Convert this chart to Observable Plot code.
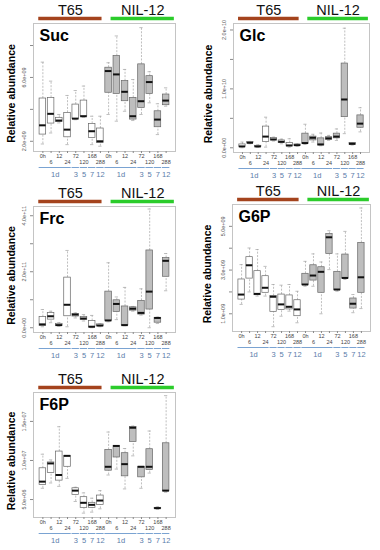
<!DOCTYPE html>
<html><head><meta charset="utf-8">
<script src="https://cdn.jsdelivr.net/npm/d3@7"></script>
<script src="https://cdn.jsdelivr.net/npm/@observablehq/plot@0.6"></script>
<style>
html,body{margin:0;padding:0;background:#fff;}
#wrap{position:relative;width:380px;height:550px;overflow:hidden;font-family:"Liberation Sans",Arial,sans-serif;}
#wrap > div{position:absolute;}
</style></head><body><div id="wrap"></div>
<script>
// ---------- data ----------
const genotypes = ["T65", "NIL-12"];
const timeLabels = ["0h", "6", "12", "24", "72", "120", "168", "288"];
const dayLabels = ["1d", "3", "5", "7", "12"];
const dayFirstTime = [0, 4, 5, 6, 7];
const dayLastTime = [3, 4, 5, 6, 7];

// Suc (x1e9)
const sucMin = [1.83, 2.52, 3.15, 1.79, 3.35, 3.50, 1.79, 1.69, 3.68, 3.26, 3.88, 3.30, 3.68, 4.41, 2.42, 4.20];
const sucQ1  = [2.42, 3.11, 3.21, 2.25, 3.40, 3.55, 2.21, 1.90, 5.04, 4.97, 4.51, 3.36, 4.09, 4.97, 2.88, 4.26];
const sucMed = [3.00, 3.72, 3.30, 2.73, 3.42, 3.57, 2.63, 2.00, 6.40, 6.19, 5.10, 3.57, 4.51, 5.71, 3.36, 4.55];
const sucQ3  = [4.68, 4.72, 3.47, 3.78, 4.30, 4.55, 3.09, 2.80, 6.61, 7.34, 5.77, 4.72, 6.82, 6.08, 3.88, 4.93];
const sucMax = [6.96, 5.77, 3.68, 4.87, 5.18, 5.46, 3.57, 3.57, 6.92, 8.60, 6.50, 5.87, 9.12, 6.36, 4.35, 5.35];
const sucTicks = [2e9, 4e9, 6e9, 8e9];
const sucTickLabels = [2e9, 6e9];

// Glc (x1e10)
const glcMin = [0.000, 0.068, 0.006, 0.011, 0.114, 0.068, 0.011, 0.023, 0.057, 0.097, 0.034, 0.125, 0.125, 0.24, 0.045, 0.27];
const glcQ1  = [0.011, 0.080, 0.011, 0.097, 0.125, 0.080, 0.023, 0.028, 0.068, 0.125, 0.040, 0.136, 0.160, 0.52, 0.050, 0.34];
const glcMed = [0.023, 0.085, 0.023, 0.190, 0.142, 0.102, 0.040, 0.045, 0.080, 0.170, 0.057, 0.160, 0.190, 0.82, 0.068, 0.41];
const glcQ3  = [0.057, 0.097, 0.034, 0.360, 0.165, 0.125, 0.080, 0.057, 0.240, 0.190, 0.160, 0.180, 0.240, 1.43, 0.080, 0.55];
const glcMax = [0.097, 0.108, 0.050, 0.520, 0.180, 0.148, 0.153, 0.068, 0.400, 0.230, 0.250, 0.210, 0.320, 2.03, 0.085, 0.68];
const glcTicks = [0, 5e9, 1e10, 1.5e10, 2e10];
const glcTickLabels = [0, 1e10, 2e10];

// Frc (x1e11)
const frcMin = [0.035, 0.18, 0.047, 0.035, 0.35, 0.24, 0.000, 0.035, 0.21, 0.29, 0.070, 0.59, 0.45, 0.00, 0.15, 1.32];
const frcQ1  = [0.060, 0.29, 0.060, 0.410, 0.40, 0.28, 0.035, 0.050, 0.24, 0.56, 0.080, 0.61, 0.47, 0.65, 0.18, 1.82];
const frcMed = [0.120, 0.41, 0.094, 0.820, 0.47, 0.33, 0.035, 0.080, 0.26, 0.85, 0.094, 0.68, 0.53, 1.29, 0.35, 2.39];
const frcQ3  = [0.380, 0.53, 0.140, 1.790, 0.49, 0.38, 0.240, 0.120, 1.29, 0.98, 0.760, 0.73, 0.96, 2.76, 0.35, 2.49];
const frcMax = [0.650, 0.59, 0.180, 2.760, 0.53, 0.47, 0.440, 0.140, 2.32, 1.10, 1.440, 0.76, 1.39, 4.24, 0.38, 2.65];
const frcTicks = [0, 1e11, 2e11, 3e11, 4e11];
const frcTickLabels = [0, 2e11, 4e11];

// G6P (x1e9)
const g6pMin = [1.43, 2.00, 1.81, 1.81, 0.41, 0.89, 1.12, 0.59, 2.26, 2.26, 1.00, 3.02, 2.03, 2.57, 1.05, 1.24];
const g6pQ1  = [1.65, 2.61, 1.85, 1.96, 1.09, 1.17, 1.20, 0.89, 2.31, 2.52, 1.96, 3.74, 2.08, 2.61, 1.24, 1.96];
const g6pMed = [1.88, 3.22, 1.91, 2.19, 1.78, 1.43, 1.32, 1.20, 2.34, 2.75, 2.92, 4.50, 2.11, 2.64, 1.46, 2.67];
const g6pQ3  = [2.57, 3.59, 2.95, 2.72, 1.81, 1.88, 1.84, 1.62, 2.83, 3.22, 3.13, 4.65, 2.92, 3.71, 1.70, 4.24];
const g6pMax = [3.25, 4.01, 3.94, 3.17, 2.34, 2.31, 2.34, 2.03, 3.40, 3.74, 3.37, 4.80, 3.74, 4.77, 1.88, 5.84];
const g6pTicks = [1e9, 2e9, 3e9, 4e9, 5e9];
const g6pTickLabels = [1e9, 3e9, 5e9];

// F6P (x1e6)
const f6pMin = [6.44, 7.12, 6.69, 7.71, 4.75, 3.26, 3.39, 3.81, 8.14, 8.90, 6.36, 10.59, 6.44, 8.39, 3.73, 5.93];
const f6pQ1  = [6.86, 8.39, 7.42, 9.19, 5.59, 3.90, 3.94, 4.32, 8.69, 10.38, 7.97, 12.37, 7.84, 8.77, 3.81, 6.06];
const f6pMed = [7.29, 9.62, 8.14, 10.59, 6.14, 4.58, 4.32, 4.87, 9.19, 11.86, 9.53, 14.19, 9.19, 9.19, 3.90, 6.14];
const f6pQ3  = [9.00, 9.75, 11.14, 10.59, 6.44, 5.30, 4.58, 5.51, 11.36, 11.86, 10.93, 14.28, 9.19, 11.44, 3.94, 12.20];
const f6pMax = [10.80, 10.08, 14.32, 10.59, 6.57, 5.85, 5.17, 6.14, 13.64, 11.86, 11.53, 14.40, 9.19, 13.77, 4.07, 18.30];
const f6pTicks = [5e6, 1e7, 1.5e7];
const f6pTickLabels = [5e6, 1e7, 1.5e7];

// ---------- layout / style ----------
const FONT = "Liberation Sans, Arial, Helvetica, sans-serif";
const headColors = ["#a4431d", "#2bcc2b"];
const headShift = [[-0.5, 0.2], [0.3, 1.0]];

const panels = [
  {name: "Suc", unit: 1e9, domain: [1.36, 9.38], min: sucMin, q1: sucQ1, med: sucMed, q3: sucQ3, max: sucMax, ticks: sucTicks, labels: sucTickLabels,
   left: 0, top: 0, w: 190, h: 180, mt: 23, mb: 29, ml: 33, mr: 15},
  {name: "Glc", unit: 1e10, domain: [-0.08, 2.11], min: glcMin, q1: glcQ1, med: glcMed, q3: glcQ3, max: glcMax, ticks: glcTicks, labels: glcTickLabels,
   left: 190, top: 0, w: 190, h: 180, mt: 23, mb: 28, ml: 43, mr: 11},
  {name: "Frc", unit: 1e11, domain: [-0.17, 4.33], min: frcMin, q1: frcQ1, med: frcMed, q3: frcQ3, max: frcMax, ticks: frcTicks, labels: frcTickLabels,
   left: 0, top: 180, w: 190, h: 182, mt: 26, mb: 30, ml: 33, mr: 15},
  {name: "G6P", unit: 1e9, domain: [0.19, 6.0], min: g6pMin, q1: g6pQ1, med: g6pMed, q3: g6pQ3, max: g6pMax, ticks: g6pTicks, labels: g6pTickLabels,
   left: 190, top: 180, w: 190, h: 182, mt: 24, mb: 31, ml: 42, mr: 10},
  {name: "F6P", unit: 1e6, domain: [2.7, 18.7], min: f6pMin, q1: f6pQ1, med: f6pMed, q3: f6pQ3, max: f6pMax, ticks: f6pTicks, labels: f6pTickLabels,
   left: 0, top: 365, w: 190, h: 185, mt: 27, mb: 33, ml: 33, mr: 15}
];

function rfmt(v) {
  if (v === 0) return "0.0e+00";
  const e = Math.floor(Math.log10(Math.abs(v)) + 1e-9);
  const m = v / Math.pow(10, e);
  return m.toFixed(1) + "e" + (e < 0 ? "-" : "+") + String(Math.abs(e)).padStart(2, "0");
}

function makePanel(p) {
  const n = timeLabels.length;
  const rows = d3.range(2 * n).map(k => ({
    i: k + 1, g: Math.floor(k / n), t: k % n,
    min: p.min[k] * p.unit, q1: p.q1[k] * p.unit, med: p.med[k] * p.unit,
    q3: p.q3[k] * p.unit, max: p.max[k] * p.unit
  }));
  const lo = p.domain[0] * p.unit, hi = p.domain[1] * p.unit;
  const days = [];
  genotypes.forEach((g, gi) => dayLabels.forEach((lab, j) => {
    const a = gi * n + dayFirstTime[j] + 1, b = gi * n + dayLastTime[j] + 1;
    days.push({label: lab, x1: a - 0.45, x2: b + 0.45, xc: (a + b) / 2});
  }));
  const heads = genotypes.map((name, gi) => ({
    name, color: headColors[gi],
    x1: gi * n + 1 + headShift[gi][0], x2: gi * n + n + headShift[gi][1]
  }));
  const labDx = p.ml > 38 ? -25 : -22;
  const wh = "#a3a3a3";

  const chart = Plot.plot({
    width: p.w, height: p.h,
    marginTop: p.mt, marginBottom: p.mb, marginLeft: p.ml, marginRight: p.mr,
    style: {fontFamily: FONT, background: "transparent", overflow: "visible"},
    x: {domain: [-0.14, 2 * n + 1.14]},
    y: {domain: [lo, hi]},
    marks: [
      Plot.frame({stroke: "#c4c4c4", strokeWidth: 1}),
      Plot.axisY({ticks: p.ticks, tickSize: 3, tickFormat: () => "", stroke: "#8a8a8a", label: null, anchor: "left"}),
      Plot.axisX({ticks: d3.range(1, 2 * n + 1), tickSize: 2, tickFormat: () => "", stroke: "#8a8a8a", label: null, anchor: "bottom"}),
      // whiskers
      Plot.ruleX(rows, {x: "i", y1: "q3", y2: "max", stroke: wh, strokeWidth: 0.7, strokeDasharray: "2,1.4"}),
      Plot.ruleX(rows, {x: "i", y1: "min", y2: "q1", stroke: wh, strokeWidth: 0.7, strokeDasharray: "2,1.4"}),
      Plot.ruleY(rows, {y: "max", x1: d => d.i - 0.2, x2: d => d.i + 0.2, stroke: wh, strokeWidth: 0.7}),
      Plot.ruleY(rows, {y: "min", x1: d => d.i - 0.2, x2: d => d.i + 0.2, stroke: wh, strokeWidth: 0.7}),
      // boxes
      Plot.rect(rows.filter(d => d.g === 0), {x1: d => d.i - 0.4, x2: d => d.i + 0.4, y1: "q1", y2: "q3", fill: "#ffffff", stroke: "#666", strokeWidth: 0.7}),
      Plot.rect(rows.filter(d => d.g === 1), {x1: d => d.i - 0.4, x2: d => d.i + 0.4, y1: "q1", y2: "q3", fill: "#bebebe", stroke: "#666", strokeWidth: 0.7}),
      Plot.ruleY(rows, {y: "med", x1: d => d.i - 0.4, x2: d => d.i + 0.4, stroke: "#111", strokeWidth: 2}),
      // y tick labels
      Plot.text(p.labels, {y: d => d, text: d => rfmt(d), frameAnchor: "left", dx: -9, rotate: -90,
        textAnchor: "middle", lineAnchor: "middle", fontSize: 5.5, fill: "#555"}),
      // x labels, staggered
      Plot.text(rows.filter(d => d.t % 2 === 0), {x: "i", text: d => timeLabels[d.t], frameAnchor: "bottom", dy: 5,
        textAnchor: "middle", lineAnchor: "middle", fontSize: 5.5, fill: "#444"}),
      Plot.text(rows.filter(d => d.t % 2 === 1), {x: "i", text: d => timeLabels[d.t], frameAnchor: "bottom", dy: 10.5,
        textAnchor: "middle", lineAnchor: "middle", fontSize: 5.5, fill: "#444"}),
      // day groups
      Plot.ruleY(days, {y: () => lo, x1: "x1", x2: "x2", dy: 16, stroke: "#7aa3d2", strokeWidth: 1}),
      Plot.text(days, {x: "xc", text: "label", frameAnchor: "bottom", dy: 23, textAnchor: "middle", lineAnchor: "middle",
        fontSize: 7.5, fill: "#5b7daa"}),
      // genotype headers
      Plot.ruleY(heads, {y: () => hi, x1: "x1", x2: "x2", dy: -5, stroke: "color", strokeWidth: 3.5}),
      Plot.text(heads, {x: d => (d.x1 + d.x2) / 2, text: "name", frameAnchor: "top", dy: -13, textAnchor: "middle",
        lineAnchor: "middle", fontSize: 14.5, fill: "#111"}),
      // panel title
      Plot.text([p.name], {frameAnchor: "top-left", dx: 6, dy: 6, textAnchor: "start", lineAnchor: "top",
        fontSize: 16, fontWeight: "bold", fill: "#000"}),
      // y label
      Plot.text(["Relative abundance"], {frameAnchor: "left", dx: labDx, dy: 6, rotate: -90, textAnchor: "middle",
        lineAnchor: "middle", fontSize: 10.5, fontWeight: "bold", fill: "#000"})
    ]
  });
  const holder = document.createElement("div");
  holder.style.left = p.left + "px";
  holder.style.top = p.top + "px";
  holder.appendChild(chart);
  document.getElementById("wrap").appendChild(holder);
}

panels.forEach(makePanel);
</script>
</body></html>
